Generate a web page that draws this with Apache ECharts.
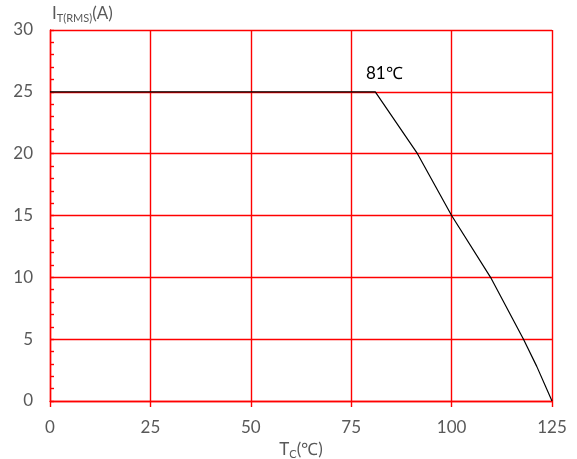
<!DOCTYPE html>
<html>
<head>
<meta charset="utf-8">
<script src="https://cdn.jsdelivr.net/npm/echarts@6/dist/echarts.min.js"></script>
<style>
html,body{margin:0;padding:0;background:#fff;}
#chart{width:577px;height:459px;}
</style>
</head>
<body>
<div id="chart"></div>
<script>
// Case temperature Tc (°C) vs on-state RMS current IT(RMS) (A)
const tempC = [0, 81, 91.5, 100, 109.7, 117.9, 121.2, 125];
const currentA = [25, 25, 20, 15, 10, 5, 2.8, 0];
const xTicks = [0, 25, 50, 75, 100, 125];
const yTicks = [0, 5, 10, 15, 20, 25, 30];
const kneeLabel = '81℃';
const kneePoint = [81, 25];

const red = '#ff0000';
const gray = '#595959';
const font = 'Lato';

const chart = echarts.init(document.getElementById('chart'));
chart.setOption({
  animation: false,
  grid: { left: 50, right: 25, top: 30, bottom: 58, containLabel: false, outerBoundsMode: 'none' },
  xAxis: {
    type: 'value', min: xTicks[0], max: xTicks[xTicks.length - 1], interval: 25,
    name: '{m|T}{s|C}{m|(℃)}', nameLocation: 'middle', nameGap: 35,
    nameTextStyle: { rich: {
      m: { fontSize: 17, color: gray, fontFamily: font },
      s: { fontSize: 11, color: gray, fontFamily: font, padding: [10, 0, 0, 0] }
    } },
    axisLine: { show: true, lineStyle: { color: red, width: 1.4 } },
    axisTick: { show: true, length: 6, lineStyle: { color: red, width: 1.4 } },
    axisLabel: { color: gray, fontSize: 17, fontFamily: font, margin: 18 },
    splitLine: { show: true, lineStyle: { color: red, width: 1.4 } }
  },
  yAxis: {
    type: 'value', min: yTicks[0], max: yTicks[yTicks.length - 1], interval: 5,
    name: '{m|I}{s|T(RMS)}{m|(A)}', nameLocation: 'end', nameGap: 6,
    nameTextStyle: { align: 'left', padding: [0, 0, 0, 2], rich: {
      m: { fontSize: 17, color: gray, fontFamily: font },
      s: { fontSize: 11, color: gray, fontFamily: font, padding: [10, 0, 0, 0] }
    } },
    axisLine: { show: true, lineStyle: { color: red, width: 1.4 } },
    axisTick: { show: true, inside: true, length: 4, lineStyle: { color: red, width: 1.4 } },
    minorTick: { show: true, splitNumber: 5, length: 4, lineStyle: { color: red, width: 1.4 } },
    axisLabel: { color: gray, fontSize: 17, fontFamily: font, margin: 17 },
    splitLine: { show: true, lineStyle: { color: red, width: 1.4 } }
  },
  series: [{
    type: 'line', data: tempC.map((t, i) => [t, currentA[i]]), symbol: 'none', smooth: false,
    lineStyle: { color: '#000', width: 1.2 }, z: 5,
    markPoint: {
      symbol: 'circle', symbolSize: 1, itemStyle: { color: 'rgba(0,0,0,0)' },
      data: [{ coord: kneePoint }],
      label: {
        show: true, formatter: kneeLabel, position: 'top', offset: [9, -4],
        color: '#000', fontSize: 17, fontFamily: font
      }
    }
  }]
});
</script>
</body>
</html>
